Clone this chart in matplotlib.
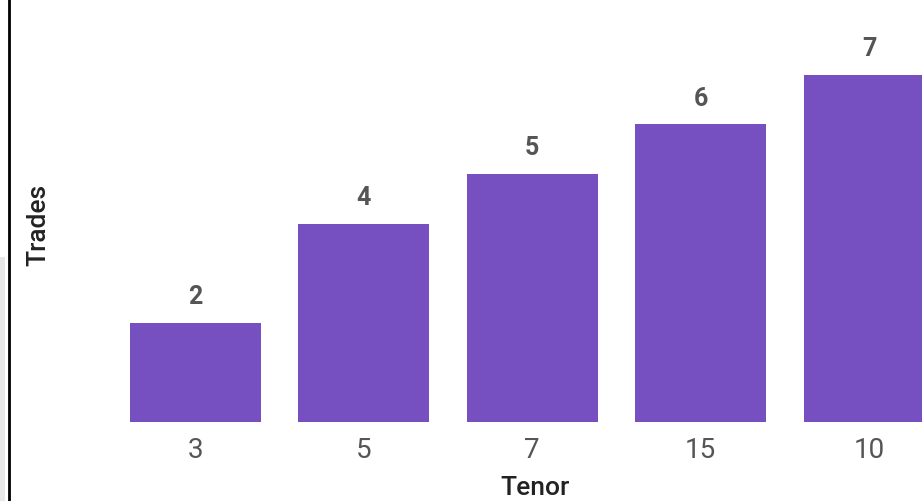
import matplotlib
matplotlib.use("Agg")
import matplotlib.pyplot as plt
from matplotlib.patches import Rectangle
from matplotlib.lines import Line2D

categories = ["3", "5", "7", "15", "10"]
trades = [2, 4, 5, 6, 7]

BAR = "#764fc1"
TXT = "#555555"
FONT = ["Roboto", "DejaVu Sans"]

W, H = 922, 501
fig = plt.figure(figsize=(W / 100, H / 100), dpi=100)
fig.patch.set_facecolor("white")

base_px = 422
px_per_unit = 49.6
step = 168.5
first_center = 195

ax = fig.add_axes([0, (H - base_px) / H, 1, base_px / H])
x = list(range(len(categories)))
ax.bar(x, trades, width=131 / step, color=BAR)
ax.set_xlim(-first_center / step, (W - first_center) / step)
ax.set_ylim(0, base_px / px_per_unit)
for s in ax.spines.values():
    s.set_visible(False)
ax.set_yticks([])
ax.set_xticks(x)
ax.set_xticklabels(categories, fontsize=20, color=TXT, family=FONT)
ax.tick_params(axis="x", length=0, pad=11)
ax.set_facecolor("none")

for xi, v in zip(x, trades):
    ax.annotate(str(v), (xi, v), xytext=(0, 10), textcoords="offset points",
                ha="center", va="bottom", fontsize=18, fontweight="bold",
                color=TXT, family=FONT)

fig.text(535 / W, 1 - 488 / H, "Tenor", ha="center", va="center",
         fontsize=19, color="#222222", fontweight="medium", family=FONT)
fig.text(38 / W, 1 - 225 / H, "Trades", ha="center", va="center",
         rotation=90, fontsize=19, color="#222222", fontweight="medium", family=FONT)

# container borders
fig.patches.append(Rectangle((0, 0), 5 / W, (H - 257) / H, transform=fig.transFigure,
                             facecolor="#e6e6e6", edgecolor="none"))
fig.lines.append(Line2D([9 / W, 9 / W], [0, 1], transform=fig.transFigure,
                        color="black", linewidth=2))

fig.savefig("out.png", dpi=100)
